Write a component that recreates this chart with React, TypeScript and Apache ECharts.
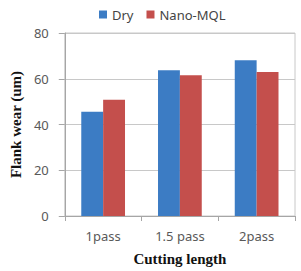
import React, { useEffect, useRef } from "react";
import * as echarts from "echarts";

const categories = ["1pass", "1.5 pass", "2pass"];
const dryValues = [45.6, 63.7, 68.1];
const nanoValues = [50.8, 61.5, 63.0];
const seriesNames = ["Dry", "Nano-MQL"];

export default function App() {
  const ref = useRef<HTMLDivElement>(null);
  useEffect(() => {
    const chart = echarts.init(ref.current!, null, { renderer: "svg" });
    const labelFont = "'Noto Sans', sans-serif";
    chart.setOption({
      animation: false,
      backgroundColor: "#ffffff",
      legend: {
        data: seriesNames,
        top: 3,
        left: 94,
        itemWidth: 8,
        itemHeight: 8,
        itemGap: 13,
        icon: "rect",
        textStyle: { fontFamily: labelFont, fontSize: 13, color: "#444" },
      },
      grid: {
        left: 48,
        right: 6,
        top: 33,
        bottom: 55,
        show: true,
        borderColor: "#c8c8c8",
        borderWidth: 1,
      },
      xAxis: {
        type: "category",
        data: categories,
        name: "Cutting length",
        nameLocation: "middle",
        nameGap: 35,
        nameTextStyle: {
          fontFamily: "'Liberation Serif', 'Times New Roman', serif",
          fontWeight: "bold",
          fontSize: 15,
          color: "#111",
        },
        axisLine: { lineStyle: { color: "#a6a6a6" } },
        axisTick: { show: true, length: 5, lineStyle: { color: "#a6a6a6" } },
        axisLabel: { fontFamily: labelFont, fontSize: 13, color: "#595959", margin: 13 },
      },
      yAxis: {
        type: "value",
        min: 0,
        max: 80,
        interval: 20,
        name: "Flank wear (um)",
        nameLocation: "middle",
        nameGap: 31,
        nameTextStyle: {
          fontFamily: "'Liberation Serif', 'Times New Roman', serif",
          fontWeight: "bold",
          fontSize: 15,
          color: "#111",
        },
        axisLine: { show: true, lineStyle: { color: "#a6a6a6" } },
        axisTick: { show: true, length: 6, lineStyle: { color: "#a6a6a6" } },
        axisLabel: { fontFamily: labelFont, fontSize: 13, color: "#595959", margin: 16 },
        splitLine: { lineStyle: { color: "#c8c8c8" } },
      },
      series: [
        {
          name: seriesNames[0],
          type: "bar",
          data: dryValues,
          barGap: "0%",
          barCategoryGap: "43%",
          itemStyle: { color: "#3c7cc4" },
        },
        {
          name: seriesNames[1],
          type: "bar",
          data: nanoValues,
          barGap: "0%",
          barCategoryGap: "43%",
          itemStyle: { color: "#c44f4c" },
        },
      ],
    });
    return () => chart.dispose();
  }, []);
  return <div ref={ref} style={{ width: 301, height: 271, position: "absolute", left: 0, top: 0 }} />;
}
